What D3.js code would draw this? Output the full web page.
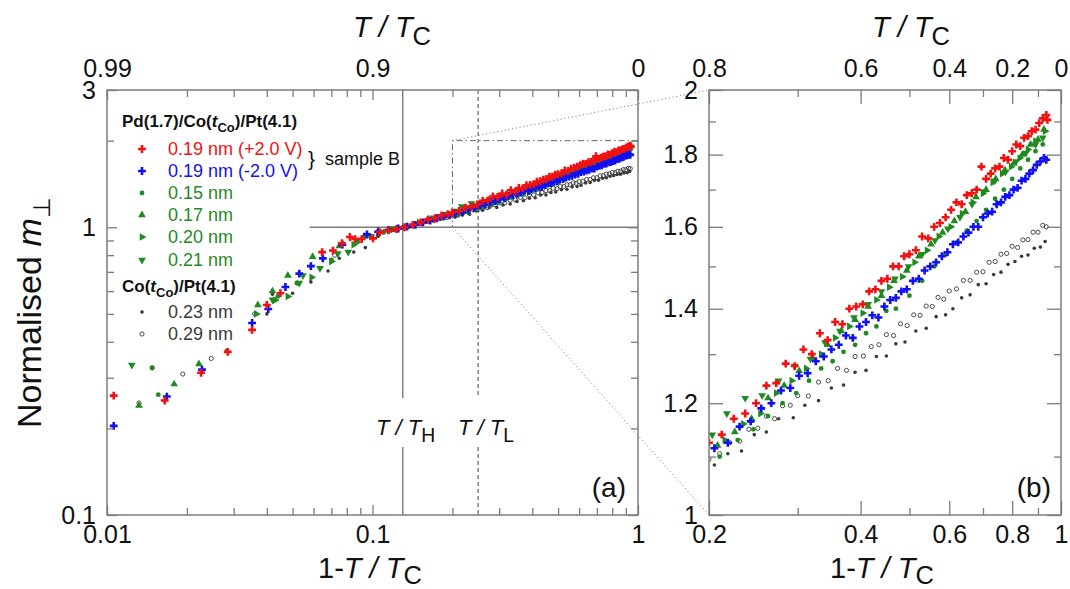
<!DOCTYPE html>
<html>
<head>
<meta charset="utf-8">
<script src="https://cdn.jsdelivr.net/npm/d3@7/dist/d3.min.js"></script>
<style>
body { margin: 0; background: #fff; }
text { font-family: "Liberation Sans", Arial, sans-serif; }
</style>
</head>
<body>
<div id="chart"></div>
<script>
// ---- data: [1-T/Tc, normalised m_perp] ----
var red_p20 = [[0.0106,0.260],[0.0165,0.250],[0.0226,0.312],[0.0285,0.369],[0.0352,0.440],[0.0400,0.537],[0.0450,0.590],[0.0646,0.820],[0.0710,0.830],[0.0767,0.880],[0.0822,0.925],[0.0860,0.910],[0.0910,0.910],[0.1005,0.915],[0.1065,0.960],[0.1150,0.975],[0.1230,0.985],[0.1320,1.000],[0.1420,1.020],[0.1520,1.040],[0.1620,1.065],[0.1720,1.075],[0.1820,1.100],[0.1920,1.110],
  [0.200,1.125],[0.212,1.140],[0.224,1.170],[0.236,1.180],[0.248,1.200],[0.260,1.235],[0.272,1.240],[0.284,1.280],[0.296,1.275],[0.308,1.310],[0.320,1.300],[0.332,1.345],[0.344,1.330],[0.356,1.370],[0.368,1.365],[0.380,1.400],[0.392,1.405],[0.404,1.410],[0.416,1.440],[0.428,1.445],[0.440,1.465],[0.452,1.470],[0.464,1.500],[0.476,1.500],[0.488,1.525],[0.500,1.530],[0.515,1.540],[0.530,1.575],[0.545,1.570],[0.560,1.600],[0.575,1.610],[0.590,1.625],[0.605,1.645],[0.620,1.665],[0.635,1.660],[0.650,1.685],[0.665,1.690],[0.680,1.700],[0.695,1.765],[0.710,1.730],[0.725,1.745],[0.740,1.760],[0.755,1.765],[0.770,1.790],[0.785,1.785],[0.800,1.810],[0.815,1.830],[0.830,1.825],[0.845,1.850],[0.860,1.855],[0.875,1.870],[0.890,1.875],[0.905,1.895],[0.920,1.910],[0.935,1.920],[0.940,1.905]];

var blue_m20 = [[0.0106,0.204],[0.0168,0.258],[0.0228,0.320],[0.0352,0.465],[0.0405,0.520],[0.0470,0.620],[0.0530,0.690],[0.0586,0.733],[0.0650,0.780],[0.0770,0.870],[0.0953,0.945],[0.1050,0.965],[0.1150,0.980],[0.1250,0.990],[0.1350,1.005],[0.1450,1.020],[0.1550,1.040],[0.1650,1.055],[0.1750,1.075],[0.1850,1.090],[0.1950,1.100],
  [0.205,1.115],[0.218,1.125],[0.230,1.155],[0.242,1.165],[0.254,1.190],[0.266,1.200],[0.278,1.225],[0.290,1.230],[0.302,1.255],[0.314,1.260],[0.326,1.285],[0.338,1.295],[0.350,1.310],[0.362,1.320],[0.374,1.340],[0.386,1.335],[0.398,1.360],[0.410,1.370],[0.422,1.385],[0.434,1.380],[0.446,1.405],[0.458,1.420],[0.470,1.425],[0.482,1.440],[0.494,1.445],[0.508,1.465],[0.522,1.470],[0.536,1.490],[0.550,1.500],[0.565,1.510],[0.580,1.525],[0.595,1.535],[0.610,1.555],[0.625,1.560],[0.640,1.575],[0.655,1.585],[0.670,1.600],[0.685,1.600],[0.700,1.625],[0.715,1.635],[0.730,1.640],[0.745,1.660],[0.760,1.665],[0.775,1.680],[0.790,1.685],[0.805,1.700],[0.820,1.705],[0.835,1.725],[0.850,1.730],[0.865,1.745],[0.880,1.755],[0.895,1.770],[0.910,1.780],[0.925,1.790],[0.935,1.785]];

var green_015 = [[0.0148,0.324],[0.0156,0.262],[0.0283,0.372],[0.0440,0.575],[0.0520,0.640],[0.0700,0.770],[0.0880,0.890],[0.1100,0.965],[0.1400,1.015],[0.1700,1.065],
  [0.210,1.100],[0.228,1.130],[0.245,1.150],[0.262,1.175],[0.280,1.200],[0.298,1.220],[0.316,1.245],[0.334,1.270],[0.352,1.285],[0.370,1.305],[0.390,1.320],[0.410,1.345],[0.430,1.360],[0.450,1.395],[0.470,1.400],[0.500,1.430],[0.530,1.465],[0.560,1.500],[0.590,1.530],[0.620,1.560],[0.650,1.590],[0.680,1.615],[0.710,1.645],[0.740,1.675],[0.770,1.700],[0.800,1.730],[0.830,1.760],[0.860,1.785],[0.890,1.810],[0.920,1.830]];

var green_017 = [[0.0132,0.240],[0.0179,0.285],[0.0222,0.335],[0.0370,0.537],[0.0420,0.600],[0.0480,0.680],[0.0595,0.790],[0.0750,0.860],[0.0930,0.930],[0.1150,0.975],[0.1350,1.005],[0.1600,1.050],[0.1850,1.090],
  [0.208,1.120],[0.225,1.145],[0.243,1.170],[0.262,1.210],[0.282,1.235],[0.302,1.265],[0.322,1.290],[0.344,1.320],[0.366,1.350],[0.390,1.375],[0.414,1.405],[0.440,1.430],[0.466,1.465],[0.494,1.490],[0.522,1.525],[0.552,1.555],[0.582,1.585],[0.614,1.615],[0.646,1.640],[0.678,1.680],[0.710,1.700],[0.742,1.730],[0.774,1.755],[0.806,1.775],[0.838,1.800],[0.870,1.830],[0.900,1.845],[0.925,1.875]];

var green_020 = [[0.0365,0.500],[0.0430,0.558],[0.0480,0.575],[0.0590,0.670],[0.0700,0.760],[0.0850,0.870],[0.1050,0.955],[0.1250,0.990],[0.1500,1.040],[0.1750,1.075],
  [0.215,1.130],[0.234,1.160],[0.253,1.180],[0.272,1.220],[0.292,1.245],[0.312,1.270],[0.334,1.300],[0.356,1.335],[0.380,1.360],[0.404,1.390],[0.430,1.420],[0.456,1.450],[0.484,1.475],[0.512,1.510],[0.542,1.540],[0.572,1.575],[0.604,1.600],[0.636,1.635],[0.668,1.665],[0.700,1.690],[0.732,1.720],[0.764,1.745],[0.796,1.765],[0.828,1.790],[0.860,1.815],[0.890,1.840],[0.930,1.870]];

var green_021 = [[0.0124,0.332],[0.0420,0.560],[0.0530,0.640],[0.0547,0.680],[0.0634,0.720],[0.0740,0.810],[0.0810,0.820],[0.0980,0.930],[0.1180,0.990],[0.1450,1.030],[0.1700,1.080],[0.1900,1.110],
  [0.203,1.140],[0.217,1.180],[0.236,1.210],[0.255,1.215],[0.275,1.245],[0.296,1.275],[0.318,1.290],[0.340,1.325],[0.364,1.350],[0.388,1.380],[0.414,1.410],[0.440,1.440],[0.468,1.470],[0.498,1.500],[0.530,1.530],[0.562,1.565],[0.596,1.595],[0.630,1.625],[0.666,1.660],[0.702,1.695],[0.738,1.725],[0.776,1.750],[0.814,1.780],[0.852,1.805],[0.890,1.830],[0.920,1.850]];

var gray_023 = [[0.0400,0.500],[0.0420,0.585],[0.0500,0.590],[0.0586,0.646],[0.0680,0.705],[0.0750,0.780],[0.0850,0.820],[0.0940,0.850],[0.1050,0.930],[0.1200,0.975],[0.1400,1.010],[0.1600,1.040],[0.1800,1.065],
  [0.205,1.085],[0.218,1.105],[0.232,1.110],[0.246,1.140],[0.260,1.145],[0.275,1.170],[0.294,1.172],[0.310,1.196],[0.330,1.205],[0.350,1.230],[0.370,1.236],[0.390,1.262],[0.410,1.266],[0.430,1.295],[0.450,1.296],[0.470,1.322],[0.490,1.326],[0.515,1.350],[0.540,1.356],[0.565,1.382],[0.590,1.386],[0.610,1.400],[0.635,1.425],[0.660,1.432],[0.685,1.456],[0.710,1.458],[0.735,1.480],[0.760,1.486],[0.785,1.505],[0.810,1.512],[0.835,1.525],[0.860,1.528],[0.885,1.545],[0.910,1.548],[0.930,1.562]];

var gray_029 = [[0.0132,0.245],[0.0148,0.325],[0.0193,0.309],[0.0247,0.350],[0.0360,0.500],[0.0520,0.640],[0.0720,0.800],[0.0900,0.900],[0.1100,0.960],[0.1300,1.000],[0.1500,1.030],[0.1700,1.055],[0.1900,1.080],
  [0.200,1.095],[0.210,1.105],[0.220,1.125],[0.230,1.128],[0.240,1.150],[0.250,1.152],[0.260,1.175],[0.270,1.170],[0.280,1.195],[0.290,1.196],[0.300,1.215],[0.315,1.214],[0.330,1.242],[0.345,1.245],[0.360,1.270],[0.375,1.266],[0.390,1.295],[0.405,1.296],[0.420,1.316],[0.435,1.320],[0.450,1.342],[0.465,1.340],[0.480,1.366],[0.495,1.362],[0.510,1.386],[0.525,1.385],[0.540,1.406],[0.555,1.405],[0.570,1.426],[0.585,1.422],[0.600,1.441],[0.620,1.446],[0.640,1.466],[0.660,1.466],[0.680,1.486],[0.700,1.487],[0.720,1.510],[0.740,1.512],[0.760,1.530],[0.780,1.532],[0.800,1.550],[0.820,1.547],[0.840,1.566],[0.860,1.567],[0.880,1.586],[0.900,1.586],[0.920,1.604],[0.935,1.600]];

// ---- ticks / labels ----
var xMajorA = [0.01, 0.1, 1];
var xMinorA = [0.02,0.03,0.04,0.05,0.06,0.07,0.08,0.09,0.2,0.3,0.4,0.5,0.6,0.7,0.8,0.9];
var xLabelsA = ["0.01", "0.1", "1"];
var topLabelsA = ["0.99", "0.9", "0"];
var yMajorA = [0.1, 1, 3];
var yMinorA = [0.2,0.3,0.4,0.5,0.6,0.7,0.8,0.9,2];
var yLabelsA = ["0.1", "1", "3"];

var xMajorB = [0.2, 0.4, 0.6, 0.8, 1];
var xMinorB = [0.3, 0.5, 0.7, 0.9];
var xLabelsB = ["0.2", "0.4", "0.6", "0.8", "1"];
var topLabelsB = ["0.8", "0.6", "0.4", "0.2", "0"];
var yMajorB = [1, 1.2, 1.4, 1.6, 1.8, 2];
var yMinorB = [1.1, 1.3, 1.5, 1.7, 1.9];
var yLabelsB = ["1", "1.2", "1.4", "1.6", "1.8", "2"];

var tH = 0.13, tL = 0.25;      // T/T_H and T/T_L markers
var normStart = 0.058;         // start of the m=1 reference line
var zoomX = [0.2, 1], zoomY = [1, 2];

var RED = "#f21010", BLUE = "#1010f0", GREEN = "#1f8a1f", GRAY = "#3a3a3a", AXIS = "#7c7c7c";

var series = [
  {data: gray_029, color: GRAY, shape: "ring"},
  {data: gray_023, color: GRAY, shape: "dot"},
  {data: green_015, color: GREEN, shape: "circle"},
  {data: green_017, color: GREEN, shape: "up"},
  {data: green_020, color: GREEN, shape: "right"},
  {data: green_021, color: GREEN, shape: "down"},
  {data: blue_m20, color: BLUE, shape: "cross"},
  {data: red_p20, color: RED, shape: "cross"}
];

var svg = d3.select("#chart").append("svg").attr("width", 1070).attr("height", 589);

var A = {left: 107, right: 638, top: 90, bottom: 515};
var B = {left: 709, right: 1061, top: 90, bottom: 515};

var xa = d3.scaleLog().domain([0.01, 1]).range([A.left, A.right]);
var ya = d3.scaleLog().domain([0.1, 3]).range([A.bottom, A.top]);
var xb = d3.scaleLog().domain([0.2, 1]).range([B.left, B.right]);
var yb = d3.scaleLog().domain([1, 2]).range([B.bottom, B.top]);

function marker(g, shape, color, x, y) {
  if (shape === "dot") {
    return g.append("circle").attr("cx", x).attr("cy", y).attr("r", 1.8).attr("fill", color);
  }
  if (shape === "ring") {
    return g.append("circle").attr("cx", x).attr("cy", y).attr("r", 2.1)
      .attr("fill", "none").attr("stroke", color).attr("stroke-width", 0.9);
  }
  var type = d3.symbolTriangle, size = 26, rot = 0;
  if (shape === "cross") { type = d3.symbolCross; size = 34; }
  if (shape === "circle") { type = d3.symbolCircle; size = 18; }
  if (shape === "right") rot = 90;
  if (shape === "down") rot = 180;
  return g.append("path").attr("d", d3.symbol().type(type).size(size)())
    .attr("transform", "translate(" + x + "," + y + ") rotate(" + rot + ")")
    .attr("fill", color);
}

// clip paths
var defs = svg.append("defs");
defs.append("clipPath").attr("id", "clipA").append("rect")
  .attr("x", A.left).attr("y", A.top).attr("width", A.right - A.left).attr("height", A.bottom - A.top);
defs.append("clipPath").attr("id", "clipB").append("rect")
  .attr("x", B.left).attr("y", B.top).attr("width", B.right - B.left).attr("height", B.bottom - B.top);

// ---- guide lines in panel (a) ----
var guides = svg.append("g").attr("stroke", AXIS).attr("fill", "none");
guides.append("line").attr("x1", xa(normStart)).attr("x2", xa(1)).attr("y1", ya(1)).attr("y2", ya(1)).attr("stroke-width", 1.4);
[[tH, null], [tL, "4,3"]].forEach(function (d) {
  var x = xa(d[0]);
  [[A.top, 398], [447, A.bottom]].forEach(function (seg) {
    guides.append("line").attr("x1", x).attr("x2", x).attr("y1", seg[0]).attr("y2", seg[1])
      .attr("stroke-width", 1.4).attr("stroke-dasharray", d[1]);
  });
});
// zoom rectangle (dash-dot) and connectors (dotted)
guides.append("path")
  .attr("d", "M" + xa(zoomX[1]) + "," + ya(zoomY[1]) + "H" + xa(zoomX[0]) + "V" + ya(zoomY[0]))
  .attr("stroke", "#666").attr("stroke-width", 1).attr("stroke-dasharray", "6,3,1.5,3");
guides.append("line").attr("x1", xa(zoomX[0])).attr("y1", ya(zoomY[1])).attr("x2", xb(zoomX[0])).attr("y2", yb(zoomY[1]))
  .attr("stroke", "#888").attr("stroke-width", 1).attr("stroke-dasharray", "1.2,2.6");
guides.append("line").attr("x1", xa(zoomX[0])).attr("y1", ya(zoomY[0])).attr("x2", xb(zoomX[0])).attr("y2", yb(zoomY[0]))
  .attr("stroke", "#888").attr("stroke-width", 1).attr("stroke-dasharray", "1.2,2.6");

// ---- points ----
var gA = svg.append("g").attr("clip-path", "url(#clipA)");
var gB = svg.append("g").attr("clip-path", "url(#clipB)");
series.forEach(function (s) {
  s.data.forEach(function (d) {
    marker(gA, s.shape, s.color, xa(d[0]), ya(d[1]));
    if (d[0] >= 0.2 && d[1] >= 1) marker(gB, s.shape, s.color, xb(d[0]), yb(d[1]));
  });
});

// ---- axes ----
function drawAxes(P, x, y, xMaj, xMin, xLab, topLab, yMaj, yMin, yLab, majLen) {
  function style(g) {
    g.select(".domain").remove();
    g.selectAll("line").attr("stroke", AXIS).attr("stroke-width", 1.3);
    g.selectAll("text").attr("fill", "#111").style("font-size", "25px")
      .style("font-family", "'Liberation Sans', Arial, sans-serif");
  }
  var lab = function (arr, labels) { return function (d) { return labels[arr.indexOf(d)]; }; };
  svg.append("g").attr("transform", "translate(0," + P.bottom + ")")
    .call(d3.axisBottom(x).tickValues(xMin).tickSize(-7).tickFormat("")).call(style);
  svg.append("g").attr("transform", "translate(0," + P.bottom + ")")
    .call(d3.axisBottom(x).tickValues(xMaj).tickSize(-majLen).tickPadding(10).tickFormat(lab(xMaj, xLab))).call(style);
  svg.append("g").attr("transform", "translate(0," + P.top + ")")
    .call(d3.axisTop(x).tickValues(xMin).tickSize(-7).tickFormat("")).call(style);
  svg.append("g").attr("transform", "translate(0," + P.top + ")")
    .call(d3.axisTop(x).tickValues(xMaj).tickSize(-majLen).tickPadding(13).tickFormat(lab(xMaj, topLab))).call(style);
  svg.append("g").attr("transform", "translate(" + P.left + ",0)")
    .call(d3.axisLeft(y).tickValues(yMin).tickSize(-7).tickFormat("")).call(style);
  svg.append("g").attr("transform", "translate(" + P.left + ",0)")
    .call(d3.axisLeft(y).tickValues(yMaj).tickSize(-majLen).tickPadding(11).tickFormat(lab(yMaj, yLab))).call(style);
  svg.append("g").attr("transform", "translate(" + P.right + ",0)")
    .call(d3.axisRight(y).tickValues(yMin).tickSize(-7).tickFormat("")).call(style);
  svg.append("g").attr("transform", "translate(" + P.right + ",0)")
    .call(d3.axisRight(y).tickValues(yMaj).tickSize(-majLen).tickFormat("")).call(style);
  svg.append("rect").attr("x", P.left).attr("y", P.top).attr("width", P.right - P.left).attr("height", P.bottom - P.top)
    .attr("fill", "none").attr("stroke", AXIS).attr("stroke-width", 1.5);
}
drawAxes(A, xa, ya, xMajorA, xMinorA, xLabelsA, topLabelsA, yMajorA, yMinorA, yLabelsA, 10);
drawAxes(B, xb, yb, xMajorB, xMinorB, xLabelsB, topLabelsB, yMajorB, yMinorB, yLabelsB, 14);

// ---- titles ----
function tc(x, y, pre, size, sub, subDy) {
  var t = svg.append("text").attr("x", x).attr("y", y).style("font-size", size + "px").attr("fill", "#111");
  if (pre) t.append("tspan").text(pre);
  t.append("tspan").style("font-style", "italic").text("T / T");
  t.append("tspan").attr("dy", subDy).style("font-size", (size * 0.88) + "px").text(sub);
  return t;
}
tc(353, 37, "", 29, "C", 8);
tc(872, 37, "", 29, "C", 8);
tc(318, 578, "1-", 29, "C", 6);
tc(830, 578, "1-", 29, "C", 6);
tc(376, 435, "", 22, "H", 7);
tc(458, 435, "", 22, "L", 7);

var yt = svg.append("text").attr("transform", "translate(41,428) rotate(-90)")
  .style("font-size", "34px").attr("fill", "#111");
yt.append("tspan").text("Normalised ");
yt.append("tspan").style("font-style", "italic").text("m");
yt.append("tspan").attr("dy", 9).style("font-size", "24px").text("\u22A5");

svg.append("text").attr("x", 626).attr("y", 497).attr("text-anchor", "end").style("font-size", "28px").attr("fill", "#111").text("(a)");
svg.append("text").attr("x", 1051).attr("y", 497).attr("text-anchor", "end").style("font-size", "28px").attr("fill", "#111").text("(b)");

// ---- legend ----
var legendRows = [
  {label: "0.19 nm (+2.0 V)", color: RED, shape: "cross", y: 149},
  {label: "0.19 nm (-2.0 V)", color: BLUE, shape: "cross", y: 171},
  {label: "0.15 nm", color: GREEN, shape: "circle", y: 193},
  {label: "0.17 nm", color: GREEN, shape: "up", y: 215},
  {label: "0.20 nm", color: GREEN, shape: "right", y: 237},
  {label: "0.21 nm", color: GREEN, shape: "down", y: 260},
  {label: "0.23 nm", color: GRAY, shape: "dot", y: 312},
  {label: "0.29 nm", color: GRAY, shape: "ring", y: 334}
];
var leg = svg.append("g");
function header(y, pre) {
  var t = leg.append("text").attr("x", 122).attr("y", y).style("font-size", "17px")
    .style("font-weight", "bold").attr("fill", "#111");
  t.append("tspan").text(pre + "Co(");
  t.append("tspan").style("font-style", "italic").text("t");
  t.append("tspan").attr("dy", 5).style("font-size", "13px").text("Co");
  t.append("tspan").attr("dy", -5).text(")/Pt(4.1)");
}
header(127, "Pd(1.7)/");
header(292, "");
legendRows.forEach(function (r) {
  marker(leg, r.shape, r.color, 142, r.y);
  leg.append("text").attr("x", 168).attr("y", r.y + 6).style("font-size", "18px").attr("fill", r.color).text(r.label);
});
leg.append("text").attr("x", 308).attr("y", 166).style("font-size", "21px").attr("fill", "#111").text("}");
leg.append("text").attr("x", 325).attr("y", 165).style("font-size", "18px").attr("fill", "#111").text("sample B");
</script>
</body>
</html>
